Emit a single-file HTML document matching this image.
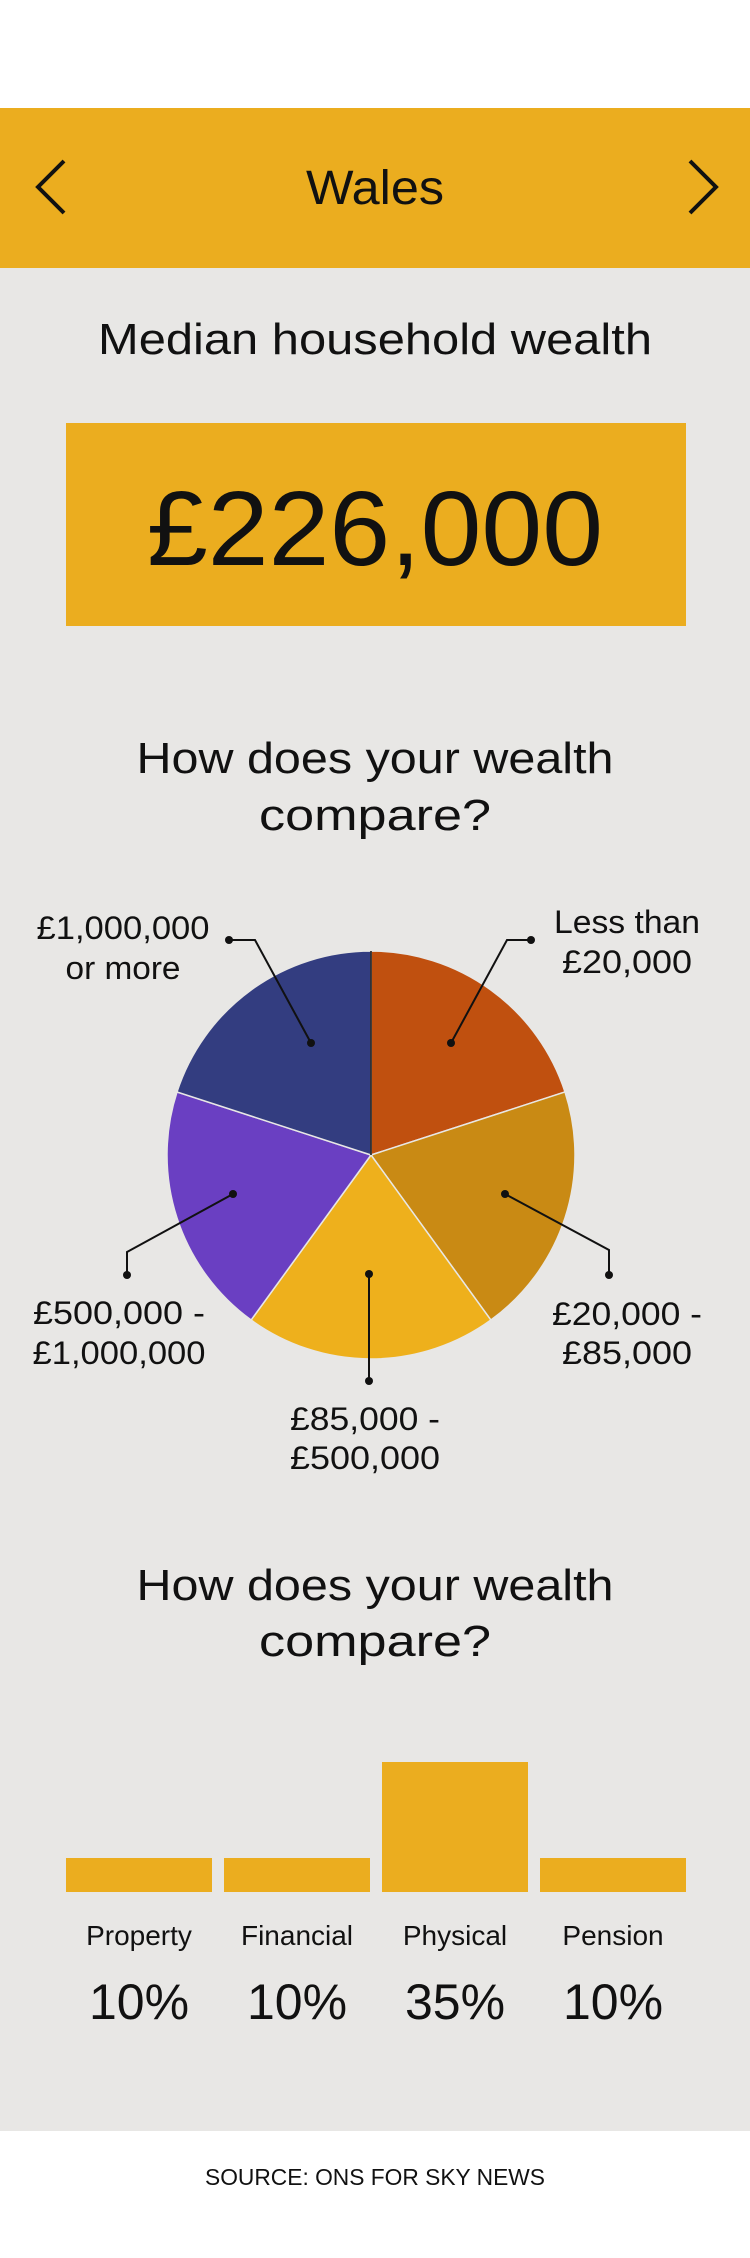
<!DOCTYPE html>
<html><head><meta charset="utf-8"><style>
html,body{margin:0;padding:0;background:#fff}
svg{display:block}
text{font-family:"Liberation Sans",sans-serif;fill:#111}
</style></head><body>
<svg id="page" width="750" height="2258" viewBox="0 0 750 2258" xmlns="http://www.w3.org/2000/svg">
<rect x="0" y="0" width="750" height="2258" fill="#ffffff"/>
<rect x="0" y="268" width="750" height="1863" fill="#e8e7e5"/>
<rect x="0" y="108" width="750" height="160" fill="#ebad1f"/>
<polyline points="64,161 38,187 64,213" fill="none" stroke="#111" stroke-width="4"/>
<polyline points="690,161 716,187 690,213" fill="none" stroke="#111" stroke-width="4"/>
<text x="375" y="204" text-anchor="middle" font-size="48" textLength="138" lengthAdjust="spacingAndGlyphs">Wales</text>
<text x="375" y="354" text-anchor="middle" font-size="44" textLength="554" lengthAdjust="spacingAndGlyphs">Median household wealth</text>
<rect x="66" y="423" width="620" height="203" fill="#ebad1f"/>
<text x="375" y="565" text-anchor="middle" font-size="106" textLength="456" lengthAdjust="spacingAndGlyphs">£226,000</text>
<text x="375" y="773" text-anchor="middle" font-size="44" textLength="477" lengthAdjust="spacingAndGlyphs">How does your wealth</text>
<text x="375" y="830" text-anchor="middle" font-size="44" textLength="232" lengthAdjust="spacingAndGlyphs">compare?</text>
<g id="pie"></g>
<g id="labels" font-size="32">
 <text x="627" y="933" text-anchor="middle" textLength="146" lengthAdjust="spacingAndGlyphs">Less than</text>
 <text x="627" y="973" text-anchor="middle" textLength="130" lengthAdjust="spacingAndGlyphs">£20,000</text>
 <text x="123" y="939" text-anchor="middle" textLength="173" lengthAdjust="spacingAndGlyphs">£1,000,000</text>
 <text x="123" y="979" text-anchor="middle" textLength="115" lengthAdjust="spacingAndGlyphs">or more</text>
 <text x="627" y="1325" text-anchor="middle" textLength="150" lengthAdjust="spacingAndGlyphs">£20,000 -</text>
 <text x="627" y="1364" text-anchor="middle" textLength="130" lengthAdjust="spacingAndGlyphs">£85,000</text>
 <text x="365" y="1430" text-anchor="middle" textLength="150" lengthAdjust="spacingAndGlyphs">£85,000 -</text>
 <text x="365" y="1469" text-anchor="middle" textLength="150" lengthAdjust="spacingAndGlyphs">£500,000</text>
 <text x="119" y="1324" text-anchor="middle" textLength="172" lengthAdjust="spacingAndGlyphs">£500,000 -</text>
 <text x="119" y="1364" text-anchor="middle" textLength="173" lengthAdjust="spacingAndGlyphs">£1,000,000</text>
</g>
<g fill="none" stroke="#111" stroke-width="2">
 <polyline points="451,1043 507,940 531,940"/>
 <polyline points="229,940 255,940 311,1043"/>
 <polyline points="505,1194 609,1250 609,1275"/>
 <polyline points="369,1274 369,1381"/>
 <polyline points="233,1194 127,1252 127,1275"/>
</g>
<g fill="#111">
 <circle cx="451" cy="1043" r="4"/><circle cx="531" cy="940" r="4"/>
 <circle cx="229" cy="940" r="4"/><circle cx="311" cy="1043" r="4"/>
 <circle cx="505" cy="1194" r="4"/><circle cx="609" cy="1275" r="4"/>
 <circle cx="369" cy="1274" r="4"/><circle cx="369" cy="1381" r="4"/>
 <circle cx="233" cy="1194" r="4"/><circle cx="127" cy="1275" r="4"/>
</g>
<text x="375" y="1600" text-anchor="middle" font-size="44" textLength="477" lengthAdjust="spacingAndGlyphs">How does your wealth</text>
<text x="375" y="1656" text-anchor="middle" font-size="44" textLength="232" lengthAdjust="spacingAndGlyphs">compare?</text>
<g id="bars"></g>
<text x="375" y="2185" text-anchor="middle" font-size="23" textLength="340" lengthAdjust="spacingAndGlyphs">SOURCE: ONS FOR SKY NEWS</text>
</svg>
<script>
const pieCategories = ["Less than £20,000","£20,000 - £85,000","£85,000 - £500,000","£500,000 - £1,000,000","£1,000,000 or more"];
const pieShares = [20, 20, 20, 20, 20];
const pieColors = ["#c0500f","#c98a14","#eeb01c","#6a3fc2","#333d80"];
const barCategories = ["Property","Financial","Physical","Pension"];
const barValues = [10, 10, 35, 10];
const barLabels = ["10%","10%","35%","10%"];

const NS = "http://www.w3.org/2000/svg";
const pie = document.getElementById("pie");
const cx = 371, cy = 1155, r = 204;
const total = pieShares.reduce((a,b)=>a+b,0);
let acc = 0;
function pt(frac){const a = frac*2*Math.PI; return [cx + r*Math.sin(a), cy - r*Math.cos(a)];}
pieShares.forEach((v,i)=>{
  const f0 = acc/total; acc += v; const f1 = acc/total;
  const p0 = pt(f0), p1 = pt(f1);
  const large = (f1-f0) > 0.5 ? 1 : 0;
  const path = document.createElementNS(NS,"path");
  path.setAttribute("d",`M${cx},${cy} L${p0[0]},${p0[1]} A${r},${r} 0 ${large} 1 ${p1[0]},${p1[1]} Z`);
  path.setAttribute("fill",pieColors[i]);
  path.setAttribute("stroke","#e8e7e5");
  path.setAttribute("stroke-width","1.5");
  
  
  pie.appendChild(path);
});
const sep = document.createElementNS(NS,"line");
sep.setAttribute("x1",cx);sep.setAttribute("y1",cy);sep.setAttribute("x2",cx);sep.setAttribute("y2",cy-r);
sep.setAttribute("stroke","#111");sep.setAttribute("stroke-width","1.5");


pie.appendChild(sep);

const bars = document.getElementById("bars");
const baseY = 1892, x0 = 66, bw = 146, gap = 12;
function yScale(v){ return -4.4 + v*3.84; }
barValues.forEach((v,i)=>{
  const h = yScale(v);
  const x = x0 + i*(bw+gap);
  const rect = document.createElementNS(NS,"rect");
  rect.setAttribute("x",x);rect.setAttribute("y",baseY-h);
  rect.setAttribute("width",bw);rect.setAttribute("height",h);
  rect.setAttribute("fill","#ebad1f");
  
  
  bars.appendChild(rect);
  const t = document.createElementNS(NS,"text");
  t.setAttribute("x",x+bw/2);t.setAttribute("y",1945);
  t.setAttribute("text-anchor","middle");t.setAttribute("font-size","28");
  t.textContent = barCategories[i];
  
  
  bars.appendChild(t);
  const p = document.createElementNS(NS,"text");
  p.setAttribute("x",x+bw/2);p.setAttribute("y",2019);
  p.setAttribute("text-anchor","middle");p.setAttribute("font-size","50");
  p.textContent = barLabels[i];
  
  
  bars.appendChild(p);
});
</script>
</body></html>
